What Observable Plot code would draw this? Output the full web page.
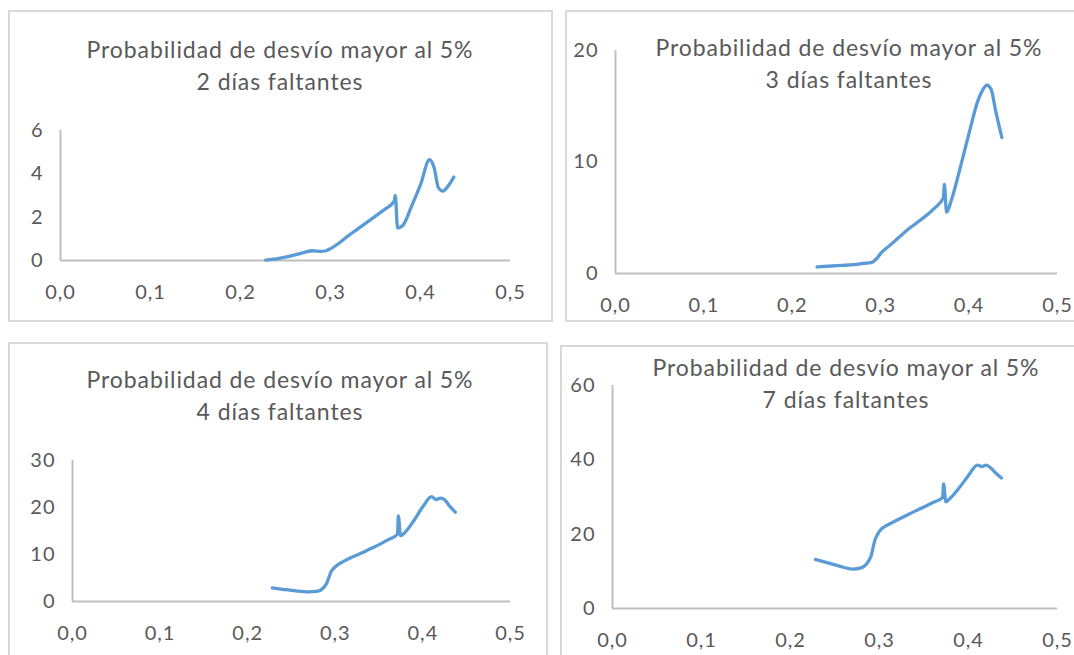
<!DOCTYPE html>
<html>
<head>
<meta charset="utf-8">
<script src="https://cdn.jsdelivr.net/npm/d3@7"></script>
<script src="https://cdn.jsdelivr.net/npm/@observablehq/plot@0.6"></script>
<style>
  html, body { margin: 0; padding: 0; background: #fff; }
  #page { position: relative; width: 1074px; height: 655px; overflow: hidden; background: #fff; }
  .panel { position: absolute; box-sizing: border-box; border: 2px solid #d9d9d9; background: #fff; }
  .title { position: absolute; transform: translateX(-50%); white-space: nowrap; text-align: center;
           font-family: Lato, "Open Sans", sans-serif; font-size: 23px; letter-spacing: 0.9px;
           line-height: 32px; color: #595959; }
  .plot { position: absolute; }
  .plot text { letter-spacing: 1px; }
</style>
</head>
<body>
<div id="page"></div>
<script>
// ---- data ----
const xValues = [0.228, 0.24, 0.255, 0.27, 0.28, 0.29, 0.295, 0.30, 0.31, 0.32, 0.33, 0.34, 0.35, 0.36,
                 0.371, 0.372, 0.3745, 0.38, 0.39, 0.40, 0.41, 0.415, 0.42, 0.425, 0.43, 0.437];
const dias2 = [0.02, 0.08, 0.2, 0.36, 0.45, 0.42, 0.45, 0.55, 0.82, 1.15, 1.45, 1.75, 2.05, 2.35,
               2.75, 3.0, 1.5, 1.6, 2.5, 3.5, 4.65, 4.3, 3.35, 3.2, 3.4, 3.85];
const dias3 = [0.6, 0.65, 0.72, 0.8, 0.9, 1.0, 1.3, 1.8, 2.5, 3.2, 3.9, 4.5, 5.1, 5.8,
               6.8, 8.0, 5.5, 6.6, 9.5, 12.6, 15.5, 16.4, 16.9, 16.5, 14.6, 12.2];
const dias4 = [2.9, 2.6, 2.25, 2.05, 2.2, 3.8, 6.3, 7.4, 8.6, 9.5, 10.3, 11.2, 12.1, 13.1,
               14.3, 18.2, 14.0, 14.8, 17.3, 20.2, 22.3, 21.7, 22.0, 21.6, 20.4, 19.0];
const dias7 = [13.2, 12.4, 11.4, 10.6, 11.0, 13.8, 18.5, 20.8, 22.6, 23.8, 25.0, 26.2, 27.3, 28.5,
               29.9, 33.5, 28.7, 29.8, 32.6, 35.8, 38.6, 38.2, 38.6, 37.8, 36.6, 35.1];
const titleLine1 = "Probabilidad de desvío mayor al 5%";
const subtitles = ["2 días faltantes", "3 días faltantes", "4 días faltantes", "7 días faltantes"];
const xTicks = [0, 0.1, 0.2, 0.3, 0.4, 0.5];
const yTicks2 = [0, 2, 4, 6];
const yTicks3 = [0, 10, 20];
const yTicks4 = [0, 10, 20, 30];
const yTicks7 = [0, 20, 40, 60];

// ---- layout ----
const panels = [
  { series: dias2, sub: subtitles[0], yTicks: yTicks2,
    box: [8, 10, 545, 312], title: [280, 49], origin: [60, 260], yTop: 130, xEnd: 510 },
  { series: dias3, sub: subtitles[1], yTicks: yTicks3,
    box: [565, 10, 530, 312], title: [849, 47], origin: [615, 273], yTop: 50, xEnd: 1057 },
  { series: dias4, sub: subtitles[2], yTicks: yTicks4,
    box: [8, 342, 540, 330], title: [280, 379], origin: [72, 601], yTop: 460, xEnd: 510 },
  { series: dias7, sub: subtitles[3], yTicks: yTicks7,
    box: [560, 345, 530, 330], title: [846, 367], origin: [612, 608], yTop: 385, xEnd: 1057 }
];

const fmtX = d => d.toFixed(1).replace(".", ",");
const fmtY = d => String(d);
const page = document.getElementById("page");

panels.forEach(p => {
  const box = document.createElement("div");
  box.className = "panel";
  box.style.left = p.box[0] + "px"; box.style.top = p.box[1] + "px";
  box.style.width = p.box[2] + "px"; box.style.height = p.box[3] + "px";
  page.appendChild(box);

  const data = xValues.map((x, i) => ({ x, y: p.series[i] }));
  const mL = 60, mR = 30, mT = 20, mB = 50;
  const w = p.xEnd - p.origin[0] + mL + mR;
  const h = p.origin[1] - p.yTop + mT + mB;
  const ymax = p.yTicks[p.yTicks.length - 1];

  const chart = Plot.plot({
    width: w, height: h,
    marginLeft: mL, marginRight: mR, marginTop: mT, marginBottom: mB,
    x: { domain: [0, 0.5] },
    y: { domain: [0, ymax] },
    style: { fontFamily: "Lato, 'Open Sans', sans-serif", fontSize: "20px", color: "#595959",
             background: "transparent", overflow: "visible" },
    marks: [
      Plot.ruleY([0], { stroke: "#bfbfbf", strokeWidth: 2 }),
      Plot.ruleX([0], { stroke: "#bfbfbf", strokeWidth: 2 }),
      Plot.axisX({ ticks: xTicks, tickSize: 0, tickPadding: 24, tickFormat: fmtX, label: null }),
      Plot.axisY({ ticks: p.yTicks, tickSize: 0, tickPadding: 17, tickFormat: fmtY, label: null }),
      Plot.line(data, { x: "x", y: "y", stroke: "#5b9bd5", strokeWidth: 3.3, curve: "monotone-x" })
    ]
  });
  chart.classList.add("plot");
  chart.style.left = (p.origin[0] - mL) + "px";
  chart.style.top = (p.yTop - mT) + "px";
  page.appendChild(chart);

  const t = document.createElement("div");
  t.className = "title";
  t.style.left = p.title[0] + "px";
  t.style.top = (p.title[1] - 16) + "px";
  t.innerHTML = titleLine1 + "<br>" + p.sub;
  page.appendChild(t);
});
</script>
</body>
</html>
